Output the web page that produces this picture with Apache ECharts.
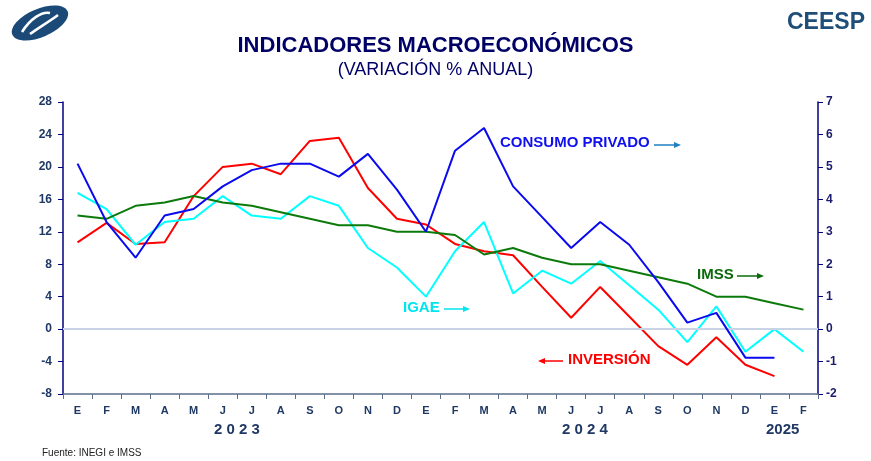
<!DOCTYPE html>
<html><head><meta charset="utf-8">
<script src="https://cdn.jsdelivr.net/npm/echarts@6/dist/echarts.min.js"></script>
<style>html,body{margin:0;padding:0;background:#fff}#c{width:871px;height:461px}</style>
</head><body><div id="c"></div>
<script>
const months = ['E','F','M','A','M','J','J','A','S','O','N','D','E','F','M','A','M','J','J','A','S','O','N','D','E','F'];
const leftTicks = [-8, 28, 4];
const rightTicks = [-2, 7, 1];
// right axis series
const consumo = [5.1,3.3,2.2,3.5,3.7,4.4,4.9,5.1,5.1,4.7,5.4,4.3,3.0,5.5,6.2,4.4,3.45,2.5,3.3,2.6,1.45,0.2,0.5,-0.88,-0.88,null];
const imss    = [3.5,3.4,3.8,3.9,4.1,3.9,3.8,3.6,3.4,3.2,3.2,3.0,3.0,2.9,2.3,2.5,2.2,2.0,2.0,1.8,1.6,1.4,1.0,1.0,0.8,0.6];
const igae    = [4.2,3.7,2.6,3.3,3.4,4.1,3.5,3.4,4.1,3.8,2.5,1.9,1.0,2.4,3.3,1.1,1.8,1.4,2.1,1.35,0.6,-0.4,0.7,-0.7,0.0,-0.7];
// left axis series
const inversion = [10.7,13.1,10.5,10.7,16.4,20.0,20.4,19.1,23.2,23.6,17.4,13.6,12.9,10.5,9.6,9.1,5.2,1.4,5.2,1.55,-2.1,-4.4,-1.0,-4.4,-5.8,null];

const navy = '#1f3864';
const FF = 'Arial, "Liberation Sans", sans-serif';
const chart = echarts.init(document.getElementById('c'));
function arrow(x1, x2, y, color) {
  const dir = x2 > x1 ? 1 : -1;
  return [
    {type:'line', shape:{x1:x1, y1:y, x2:x2 - dir*5, y2:y}, style:{stroke:color, lineWidth:1.5}},
    {type:'polygon', shape:{points:[[x2,y],[x2-dir*7,y-3],[x2-dir*7,y+3]]}, style:{fill:color}}
  ];
}
const lbl = (t, x, y, color, size) => ({type:'text', left:x, top:y, style:{text:t, fill:color, font:'bold '+(size||15)+'px '+FF}});
chart.setOption({
  animation:false,
  backgroundColor:'#fff',
  grid:{left:63, right:53, top:102, bottom:67},
  xAxis:{type:'category', data:months, boundaryGap:true,
    axisLine:{onZero:false, lineStyle:{color:'#5b6e8c', width:1.5}},
    axisTick:{show:true, length:5, lineStyle:{color:'#5b6e8c'}},
    axisLabel:{color:navy, fontWeight:'bold', fontSize:11, fontFamily:FF, margin:11, interval:0}},
  yAxis:[
    {type:'value', min:leftTicks[0], max:leftTicks[1], interval:leftTicks[2], position:'left',
     axisLine:{show:true, lineStyle:{color:'#000080', width:1.5}},
     axisTick:{show:true, length:5, lineStyle:{color:'#000080'}},
     splitLine:{show:false},
     axisLabel:{color:navy, fontWeight:'bold', fontSize:12, fontFamily:FF, margin:11}},
    {type:'value', min:rightTicks[0], max:rightTicks[1], interval:rightTicks[2], position:'right',
     axisLine:{show:true, lineStyle:{color:'#000080', width:1.5}},
     axisTick:{show:true, length:5, lineStyle:{color:'#000080'}},
     splitLine:{show:false},
     axisLabel:{color:'#1a1a6e', fontWeight:'bold', fontSize:12, fontFamily:FF, margin:8}}
  ],
  series:[
    {name:'INVERSIÓN', type:'line', yAxisIndex:0, data:inversion, symbol:'none', lineStyle:{color:'#ff0000', width:2}, z:2,
     markLine:{silent:true, symbol:'none', label:{show:false}, lineStyle:{color:'#c9d3e6', width:2, type:'solid'}, data:[{yAxis:0}]}},
    {name:'IGAE', type:'line', yAxisIndex:1, data:igae, symbol:'none', lineStyle:{color:'#00ffff', width:2}, z:3},
    {name:'IMSS', type:'line', yAxisIndex:1, data:imss, symbol:'none', lineStyle:{color:'#0b7a0b', width:2}, z:4},
    {name:'CONSUMO PRIVADO', type:'line', yAxisIndex:1, data:consumo, symbol:'none', lineStyle:{color:'#0a0aee', width:2}, z:5}
  ],
  graphic:[
    {type:'ellipse', shape:{cx:0, cy:0, rx:30, ry:14}, x:40, y:23, rotation:0.4, style:{fill:'#1b4a78'}},
    {type:'bezierCurve', shape:{x1:22, y1:32, x2:50, y2:13, cpx1:30, cpy1:19, cpx2:42, cpy2:11}, style:{stroke:'#fff', lineWidth:2.5, fill:null}},
    {type:'bezierCurve', shape:{x1:30, y1:34, x2:58, y2:15, cpx1:40, cpy1:27, cpx2:50, cpy2:21}, style:{stroke:'#fff', lineWidth:2.5, fill:null}},
    {type:'text', left:787, top:11, style:{text:'CEESP', fill:'#1f4e79', font:'bold 23px '+FF}},
    {type:'text', left:'center', top:35, style:{text:'INDICADORES MACROECONÓMICOS', fill:'#000066', font:'bold 22px '+FF}},
    {type:'text', left:'center', top:61, style:{text:'(VARIACIÓN % ANUAL)', fill:'#000066', font:'18px '+FF}},
    lbl('CONSUMO PRIVADO', 500, 135, '#1010ee'),
    ...arrow(654, 681, 145, '#1f7fc0'),
    lbl('IMSS', 697, 267, '#0b6a0b'),
    ...arrow(737, 764, 276, '#0b6a0b'),
    lbl('IGAE', 403, 300, '#00e5ee'),
    ...arrow(444, 470, 309, '#00e5ee'),
    lbl('INVERSIÓN', 568, 352, '#ff0000'),
    ...arrow(563, 538, 361, '#ff0000'),
    {type:'text', left:214, top:422, style:{text:'2 0 2 3', fill:navy, font:'bold 15px '+FF}},
    {type:'text', left:562, top:422, style:{text:'2 0 2 4', fill:navy, font:'bold 15px '+FF}},
    {type:'text', left:766, top:422, style:{text:'2025', fill:navy, font:'bold 15px '+FF}},
    {type:'text', left:42, top:448, style:{text:'Fuente: INEGI e IMSS', fill:'#222', font:'10px '+FF}}
  ]
});
</script></body></html>
